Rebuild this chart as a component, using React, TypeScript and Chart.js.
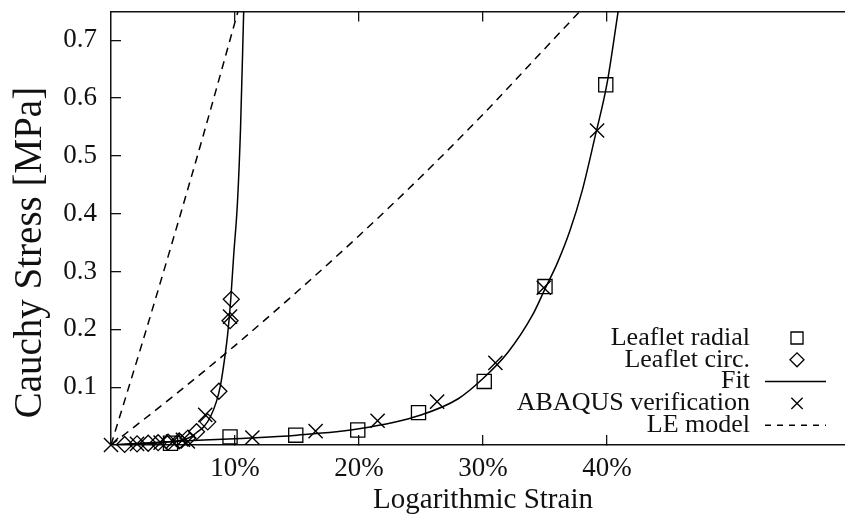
import React, { useEffect, useRef } from 'react';
import { Chart, registerables, PointElement } from 'chart.js';

Chart.register(...registerables);

const FONT = '"Liberation Serif", "Times New Roman", serif';
const INK = '#111111';

// Axis ticks
const xTickValues = [0.1, 0.2, 0.3, 0.4];
const yTickValues = [0.1, 0.2, 0.3, 0.4, 0.5, 0.6, 0.7];

// Leaflet radial (squares)
const radialStrain = [0.048, 0.096, 0.149, 0.199, 0.248, 0.301, 0.35, 0.399];
const radialStress = [0.003, 0.014, 0.017, 0.026, 0.056, 0.11, 0.274, 0.623];

// Leaflet circ. (diamonds)
const circStrain = [0.011, 0.021, 0.03, 0.038, 0.046, 0.055, 0.062, 0.069, 0.078, 0.087, 0.096, 0.097];
const circStress = [0.001, 0.002, 0.003, 0.004, 0.005, 0.007, 0.012, 0.023, 0.04, 0.093, 0.215, 0.252];

// Fit (circumferential branch)
const fitCircStrain = [0, 0.02, 0.04, 0.05, 0.06, 0.065, 0.07, 0.075, 0.08, 0.085, 0.088, 0.091, 0.094, 0.0965, 0.099, 0.102, 0.1045, 0.107];
const fitCircStress = [0, 0.002, 0.004, 0.006, 0.01, 0.015, 0.023, 0.032, 0.048, 0.075, 0.1, 0.14, 0.19, 0.25, 0.33, 0.42, 0.55, 0.75];

// Fit (radial branch)
const fitRadStrain = [0, 0.05, 0.1, 0.15, 0.2, 0.25, 0.28, 0.3, 0.32, 0.34, 0.35, 0.36, 0.37, 0.38, 0.39, 0.4, 0.409];
const fitRadStress = [0, 0.006, 0.011, 0.017, 0.028, 0.052, 0.08, 0.115, 0.16, 0.225, 0.27, 0.315, 0.37, 0.44, 0.53, 0.625, 0.75];

// ABAQUS verification (crosses)
const abaqusStrain = [0, 0.021, 0.04, 0.05, 0.058, 0.076, 0.096, 0.062, 0.114, 0.165, 0.215, 0.263, 0.31, 0.349, 0.392];
const abaqusStress = [0, 0.002, 0.004, 0.006, 0.009, 0.052, 0.222, 0.006, 0.013, 0.024, 0.042, 0.075, 0.142, 0.272, 0.544];

// LE model (dashed)
const leSteepStrain = [0, 0.025, 0.05, 0.075, 0.1024];
const leSteepStress = [0, 0.175, 0.355, 0.54, 0.75];
const leFlatStrain = [0, 0.05, 0.1, 0.15, 0.2, 0.25, 0.3, 0.35, 0.378];
const leFlatStress = [0, 0.084, 0.172, 0.265, 0.362, 0.464, 0.572, 0.686, 0.75];

const legendLabels = ['Leaflet radial', 'Leaflet circ.', 'Fit', 'ABAQUS verification', 'LE model'];

const pts = (xs: number[], ys: number[]) => xs.map((x, i) => ({ x, y: ys[i] }));

const keyPlugin = {
  id: 'gnuKey',
  afterDatasetsDraw(chart: any) {
    const ctx = chart.ctx as CanvasRenderingContext2D;
    const area = chart.chartArea;
    const textRight = area.right - 105;
    const symX = area.right - 58;
    const lineX1 = area.right - 90;
    const lineX2 = area.right - 29;
    const y0 = area.bottom - 107;
    const step = 21.8;
    legendLabels.forEach((label, i) => {
      const y = y0 + i * step;
      ctx.save();
      ctx.font = `26px ${FONT}`;
      ctx.fillStyle = INK;
      ctx.textAlign = 'right';
      ctx.textBaseline = 'middle';
      ctx.fillText(label, textRight, y);
      ctx.restore();
      ctx.save();
      if (i === 0 || i === 1 || i === 3) {
        const style = i === 0 ? 'rect' : i === 1 ? 'rectRot' : 'crossRot';
        const radius = i === 0 ? 8.5 : i === 1 ? 7 : 8;
        const p: any = new (PointElement as any)({
          x: symX,
          y,
          options: {
            pointStyle: style,
            radius,
            rotation: 0,
            borderWidth: 1.3,
            borderColor: '#000',
            backgroundColor: 'rgba(0,0,0,0)',
            hoverRadius: 0,
          },
        });
        p.draw(ctx, { left: 0, top: 0, right: 2000, bottom: 2000 });
      } else {
        ctx.beginPath();
        ctx.strokeStyle = '#000';
        ctx.lineWidth = 1.5;
        ctx.setLineDash(i === 4 ? [6, 6] : []);
        ctx.moveTo(lineX1, y);
        ctx.lineTo(lineX2, y);
        ctx.stroke();
      }
      ctx.restore();
    });
  },
};

export default function App() {
  const ref = useRef<HTMLCanvasElement | null>(null);

  useEffect(() => {
    if (!ref.current) return;
    const marker = {
      showLine: false,
      borderColor: '#000',
      backgroundColor: 'rgba(0,0,0,0)',
      pointBorderColor: '#000',
      pointBackgroundColor: 'rgba(0,0,0,0)',
      clip: false as any,
    };
    const line = {
      showLine: true,
      pointRadius: 0,
      borderColor: '#000',
      borderWidth: 1.5,
      cubicInterpolationMode: 'monotone' as const,
    };
    const tickFont = { family: FONT, size: 27 };
    const chart = new Chart(ref.current, {
      type: 'scatter',
      data: {
        datasets: [
          {
            label: legendLabels[0],
            data: pts(radialStrain, radialStress),
            ...marker,
            pointStyle: 'rect',
            pointRadius: 10,
            pointBorderWidth: 1.3,
          },
          {
            label: legendLabels[1],
            data: pts(circStrain, circStress),
            ...marker,
            pointStyle: 'rectRot',
            pointRadius: 8,
            pointBorderWidth: 1.3,
          },
          { label: legendLabels[2], data: pts(fitCircStrain, fitCircStress), ...line },
          { label: legendLabels[2] + ' (radial)', data: pts(fitRadStrain, fitRadStress), ...line },
          {
            label: legendLabels[3],
            data: pts(abaqusStrain, abaqusStress),
            ...marker,
            pointStyle: 'crossRot',
            pointRadius: 10,
            pointBorderWidth: 1.4,
          },
          { label: legendLabels[4], data: pts(leSteepStrain, leSteepStress), ...line, borderDash: [8, 6] },
          { label: legendLabels[4] + ' (2)', data: pts(leFlatStrain, leFlatStress), ...line, borderDash: [8, 6] },
        ],
      },
      options: {
        responsive: false,
        animation: false,
        events: [],
        layout: { padding: { top: 7, right: 15, left: 0, bottom: 0 } },
        plugins: {
          legend: { display: false },
          tooltip: { enabled: false },
        },
        scales: {
          x: {
            type: 'linear',
            position: 'bottom',
            min: 0,
            max: 0.6,
            afterBuildTicks: (s: any) => {
              s.ticks = xTickValues.map((v) => ({ value: v }));
            },
            afterFit: (s: any) => {
              s.height = 76;
              s.paddingLeft = 0;
              s.paddingRight = 0;
            },
            grid: { drawOnChartArea: false, drawTicks: true, tickLength: -10, color: '#111', lineWidth: 1.3 },
            border: { display: true, color: '#111', width: 1.5 },
            ticks: {
              autoSkip: false,
              maxRotation: 0,
              padding: 18,
              color: INK,
              font: tickFont,
              callback: (v: any) => `${Math.round(Number(v) * 100)}%`,
            },
            title: {
              display: true,
              text: 'Logarithmic Strain',
              color: INK,
              font: { family: FONT, size: 29 },
              padding: { top: 0, bottom: 3 },
            },
          },
          x2: {
            type: 'linear',
            position: 'top',
            min: 0,
            max: 0.6,
            afterBuildTicks: (s: any) => {
              s.ticks = xTickValues.map((v) => ({ value: v }));
            },
            afterFit: (s: any) => {
              s.height = 0;
              s.paddingLeft = 0;
              s.paddingRight = 0;
            },
            grid: { drawOnChartArea: false, drawTicks: true, tickLength: -10, color: '#111', lineWidth: 1.3 },
            border: { display: true, color: '#111', width: 1.5 },
            ticks: { display: false },
          },
          y: {
            type: 'linear',
            position: 'left',
            min: 0,
            max: 0.75,
            afterBuildTicks: (s: any) => {
              s.ticks = yTickValues.map((v) => ({ value: v }));
            },
            afterFit: (s: any) => {
              s.width = 111;
              s.paddingTop = 0;
              s.paddingBottom = 0;
            },
            grid: { drawOnChartArea: false, drawTicks: true, tickLength: -10, color: '#111', lineWidth: 1.3 },
            border: { display: true, color: '#111', width: 1.5 },
            ticks: {
              autoSkip: false,
              padding: 24,
              color: INK,
              font: tickFont,
              callback: (v: any) => Number(v).toFixed(1),
            },
            title: {
              display: true,
              text: 'Cauchy Stress [MPa]' + '\u00A0'.repeat(5),
              color: INK,
              font: { family: FONT, size: 39 },
              padding: { top: 7, bottom: 0 },
            },
          },
        },
      },
      plugins: [keyPlugin],
    } as any);
    return () => chart.destroy();
  }, []);

  return (
    <div
      style={{
        position: 'absolute',
        left: 0,
        top: 0,
        width: 845,
        height: 521,
        overflow: 'hidden',
        background: '#fff',
      }}
    >
      <canvas ref={ref} width={870} height={521} style={{ display: 'block' }} />
    </div>
  );
}
